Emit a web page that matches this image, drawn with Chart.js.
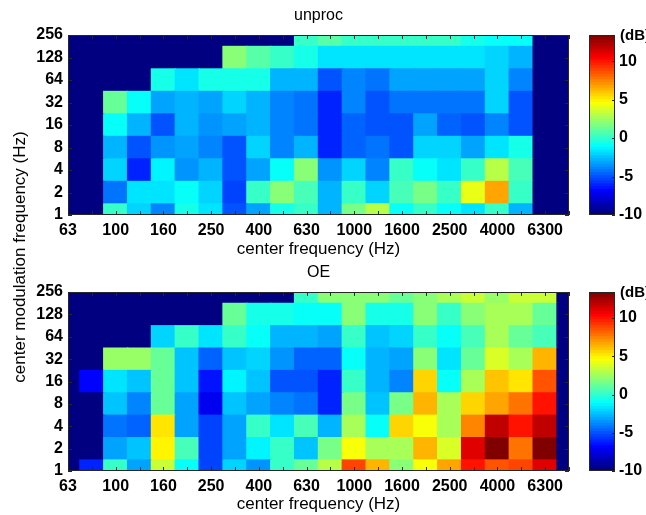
<!DOCTYPE html>
<html>
<head>
<meta charset="utf-8">
<script src="https://cdn.jsdelivr.net/npm/chart.js@4.4.1/dist/chart.umd.min.js"></script>
<style>
  body { margin: 0; background: #fff; width: 646px; height: 515px; position: relative; overflow: hidden;
         font-family: "Liberation Sans", Arial, sans-serif; }
  canvas { position: absolute; }
  #ytitle { position: absolute; left: -130px; top: 247px; width: 300px; height: 20px; line-height: 20px;
            text-align: center; font-size: 17px; color: #000; white-space: nowrap; transform: rotate(-90deg); }
</style>
</head>
<body>
<canvas id="map1" width="575" height="260" style="left:0;top:0"></canvas>
<canvas id="cbar1" width="71" height="260" style="left:575px;top:0"></canvas>
<canvas id="map2" width="575" height="258" style="left:0;top:257px"></canvas>
<canvas id="cbar2" width="71" height="258" style="left:575px;top:257px"></canvas>
<div id="ytitle">center modulation frequency (Hz)</div>
<script>
// 1/3-octave audio bands (x) and modulation bands (y)
const bands = ['63', '80', '100', '125', '160', '200', '250', '315', '400', '500', '630',
               '800', '1000', '1250', '1600', '2000', '2500', '3150', '4000', '5000', '6300', '8000'];
const modFreqs = ['1', '2', '4', '8', '16', '32', '64', '128', '256'];
const cbarTicks = [-10, -5, 0, 5, 10];

// colour limits in dB
const CMIN = -10;
const CMAX = 13.4;

// values in dB, one row per modulation band (1 Hz first), null = empty cell
const unprocDb = [
  [null, null, 0.2, -2.1, -4.0, -0.5, -1.9, -5.2, -3.2, -0.5, -0.1, -2.9, 1.4, 2.8, -1.2, 0.2, -1.2, -1.6, 0.2, -2.7, null, null],
  [null, null, -4.5, -1.9, -1.6, -0.9, -2.3, -5.6, -0.1, 1.7, 0.6, -2.7, -0.1, -2.3, 0.6, 1.4, 0.2, 3.9, 6.5, -0.1, null, null],
  [null, null, -2.1, -6.0, -1.3, -3.6, -2.7, -4.9, -3.2, -0.9, 1.7, -3.6, -2.3, -3.8, -0.1, -0.9, -1.8, -0.1, 2.8, 0.6, null, null],
  [null, null, -2.9, -4.9, -3.6, -3.4, -4.0, -5.1, -2.3, -3.8, -2.9, -6.0, -4.7, -4.3, -4.9, -2.1, -2.1, -3.2, -1.6, -0.5, null, null],
  [null, null, -1.2, -2.9, -5.1, -3.0, -3.6, -3.2, -2.9, -4.0, -4.3, -6.0, -4.7, -5.2, -5.2, -3.2, -4.7, -4.9, -3.8, -4.9, null, null],
  [null, null, 1.0, -1.2, -3.2, -2.7, -3.2, -2.1, -3.0, -4.0, -4.3, -6.3, -4.0, -5.1, -4.3, -4.3, -4.2, -4.5, -2.3, -4.9, null, null],
  [null, null, null, null, -0.5, -1.6, -0.5, -0.5, -0.5, -2.9, -2.9, -4.9, -3.8, -4.5, -3.2, -3.2, -3.2, -3.2, -2.3, -4.0, null, null],
  [null, null, null, null, null, null, null, 1.7, 0.8, 0.2, -0.7, -1.8, -1.8, -1.9, -1.9, -1.9, -1.9, -1.6, -2.3, -3.0, null, null],
  [null, null, null, null, null, null, null, null, null, null, 0.2, 0.8, 0.2, -0.1, -0.1, 0.2, 0.2, -0.5, -1.2, -1.2, null, null]
];

const oeDb = [
  [null, -6.0, 0.2, -3.4, 3.4, -1.2, -5.4, -2.3, -3.6, -0.1, 1.0, 2.8, 9.0, 6.3, 1.7, 4.6, 6.5, 10.1, 8.3, 8.7, 11.0, null],
  [null, null, -3.4, -2.5, 4.8, 0.6, -5.4, -3.2, -1.4, -0.1, -2.5, 1.4, 4.6, 2.5, 2.5, 6.1, 3.6, 11.2, 13.4, 7.9, 13.4, null],
  [null, null, -4.2, -4.7, 5.3, -3.2, -5.4, -3.2, -0.1, -1.9, 0.6, -2.9, 2.5, -0.9, 5.5, 4.3, 2.5, 7.2, 11.9, 9.8, 11.9, null],
  [null, null, -2.5, -4.0, 1.0, -3.2, -7.4, -2.5, -3.2, -4.0, -4.4, -6.3, 1.4, -2.5, 1.4, 6.3, 2.5, 5.5, 6.8, 7.9, 9.8, null],
  [null, -6.9, -1.9, -2.5, 1.0, -2.5, -6.7, -1.4, -2.5, -4.9, -4.9, -6.3, 0.2, -2.7, -3.8, 5.5, -0.9, 2.5, 5.9, 5.0, 8.3, null],
  [null, null, 2.1, 2.2, 1.0, -2.5, -4.7, -2.5, -2.1, -3.6, -4.7, -4.7, -1.2, -2.7, -3.4, 1.7, -1.9, 1.0, 3.6, 2.6, 6.1, null],
  [null, null, null, null, -2.3, -0.1, -1.6, -0.1, -1.2, -2.9, -2.9, -3.4, -0.1, -2.5, -2.1, -0.1, -1.2, 0.6, 2.6, 1.0, 0.6, null],
  [null, null, null, null, null, null, null, 1.0, -0.5, -0.5, -0.9, -1.2, 1.7, -0.5, -0.5, 1.7, 0.2, 1.7, 2.6, 2.5, 1.0, null],
  [null, null, null, null, null, null, null, null, null, null, 0.0, 1.7, 1.7, 1.7, 1.0, 1.7, 2.5, 3.2, 2.1, 3.2, 3.2, null]
];

Chart.defaults.font.family = '"Liberation Sans", Arial, sans-serif';
Chart.defaults.color = '#000';

// matlab style jet colormap, 64 levels
function jetAt(t) {
  const c = x => Math.round(255 * Math.min(1, Math.max(0, x)));
  return 'rgb(' + c(1.5 - Math.abs(4 * t - 3)) + ',' + c(1.5 - Math.abs(4 * t - 2)) + ',' + c(1.5 - Math.abs(4 * t - 1)) + ')';
}
function jet(v) {
  if (v === null) return jetAt(0);
  let t = (v - CMIN) / (CMAX - CMIN);
  let idx = Math.min(63, Math.max(0, Math.floor(t * 64)));
  return jetAt(idx / 63);
}

// axes box + inward tick marks
const frame = {
  id: 'frame',
  afterDatasetsDraw(chart, args, opts) {
    const ctx = chart.ctx, a = chart.chartArea;
    ctx.save();
    ctx.strokeStyle = '#262626';
    ctx.lineWidth = 1;
    ctx.beginPath();
    if (opts.xy) {
      const xs = chart.scales.x, ys = chart.scales.y;
      xs.ticks.forEach((t, i) => {
        const x = Math.round(xs.getPixelForTick(i)) + 0.5;
        ctx.moveTo(x, a.bottom); ctx.lineTo(x, a.bottom - 4);
        ctx.moveTo(x, a.top); ctx.lineTo(x, a.top + 4);
      });
      ys.ticks.forEach((t, i) => {
        const y = Math.round(ys.getPixelForTick(i)) + 0.5;
        ctx.moveTo(a.left, y); ctx.lineTo(a.left + 4, y);
        ctx.moveTo(a.right, y); ctx.lineTo(a.right - 4, y);
      });
    }
    if (opts.cbar) {
      const ys = chart.scales.y;
      ys.ticks.forEach((t, i) => {
        const y = Math.round(ys.getPixelForTick(i)) + 0.5;
        ctx.moveTo(a.right, y); ctx.lineTo(a.right - 3, y);
      });
    }
    ctx.stroke();
    ctx.strokeRect(Math.round(a.left) + 0.5, Math.round(a.top) + 0.5,
                   Math.round(a.right - a.left) - 1, Math.round(a.bottom - a.top) - 1);
    if (opts.unit) {
      ctx.fillStyle = '#000';
      ctx.font = 'bold 15px "Liberation Sans", Arial, sans-serif';
      ctx.textBaseline = 'middle';
      ctx.textAlign = 'left';
      ctx.fillText(opts.unit, a.right + 5, a.top + 1);
    }
    ctx.restore();
  }
};

function makeMap(id, title, values, xAxisH, titlePad, xTitlePadBottom) {
  const datasets = modFreqs.map((m, r) => ({
    label: m + ' Hz',
    data: bands.map(() => [r - 0.52, r + 0.52]),
    backgroundColor: values[r].map(jet),
    grouped: false,
    barPercentage: 1.06,
    categoryPercentage: 1,
    borderWidth: 0,
    clip: 0
  }));

  new Chart(document.getElementById(id), {
    type: 'bar',
    data: { labels: bands, datasets: datasets },
    plugins: [frame],
    options: {
      responsive: false,
      devicePixelRatio: 1,
      animation: false,
      layout: { padding: { left: 0, right: 5, top: 0, bottom: 0 } },
      plugins: {
        legend: { display: false },
        tooltip: { enabled: false },
        title: { display: true, text: title, fullSize: false, font: { size: 16, weight: 'normal', lineHeight: 1.2 },
                 color: '#000', padding: titlePad },
        frame: { xy: true }
      },
      scales: {
        x: {
          type: 'category',
          offset: false,
          grid: { display: false, drawTicks: false, offset: false },
          border: { display: false },
          ticks: {
            autoSkip: false, maxRotation: 0, padding: 6,
            font: { size: 16, weight: 'bold' },
            callback: (v, i) => (i % 2 === 0 ? bands[i] : '')
          },
          title: { display: true, text: 'center frequency (Hz)', font: { size: 17, lineHeight: 1.2 },
                   padding: { top: 0, bottom: xTitlePadBottom } },
          afterFit: s => { s.height = xAxisH; }
        },
        y: {
          type: 'linear',
          min: 0, max: 8,
          grid: { display: false, drawTicks: false },
          border: { display: false },
          ticks: {
            stepSize: 1, padding: 5,
            font: { size: 16, weight: 'bold' },
            callback: v => modFreqs[v]
          },
          afterFit: s => { s.width = 68; }
        }
      }
    }
  });
}

function makeColorbar(id, bottomPad) {
  const n = 64;
  const step = (CMAX - CMIN) / n;
  const datasets = [];
  for (let i = 0; i < n; i++) {
    datasets.push({
      data: [[CMIN + i * step, CMIN + (i + 1) * step + 0.04]],
      backgroundColor: jetAt(i / 63),
      grouped: false,
      barPercentage: 1,
      categoryPercentage: 1,
      borderWidth: 0,
      clip: 0
    });
  }
  new Chart(document.getElementById(id), {
    type: 'bar',
    data: { labels: [''], datasets: datasets },
    plugins: [frame],
    options: {
      responsive: false,
      devicePixelRatio: 1,
      animation: false,
      layout: { padding: { left: 14, right: 0, top: 35, bottom: bottomPad } },
      plugins: {
        legend: { display: false },
        tooltip: { enabled: false },
        frame: { cbar: true, unit: '(dB)' }
      },
      scales: {
        x: { display: false },
        y: {
          position: 'right',
          min: CMIN, max: CMAX,
          grid: { display: false, drawTicks: false },
          border: { display: false },
          afterBuildTicks: s => { s.ticks = cbarTicks.map(v => ({ value: v })); },
          ticks: { padding: 4, font: { size: 16, weight: 'bold' } },
          afterFit: s => { s.width = 31; }
        }
      }
    }
  });
}

makeMap('map1', 'unproc', unprocDb, 45, { top: 5.5, bottom: 10.3 }, 0.8);
makeMap('map2', 'OE', oeDb, 44, { top: 6.4, bottom: 9.4 }, 0);
makeColorbar('cbar1', 45);
makeColorbar('cbar2', 44);
</script>
</body>
</html>
